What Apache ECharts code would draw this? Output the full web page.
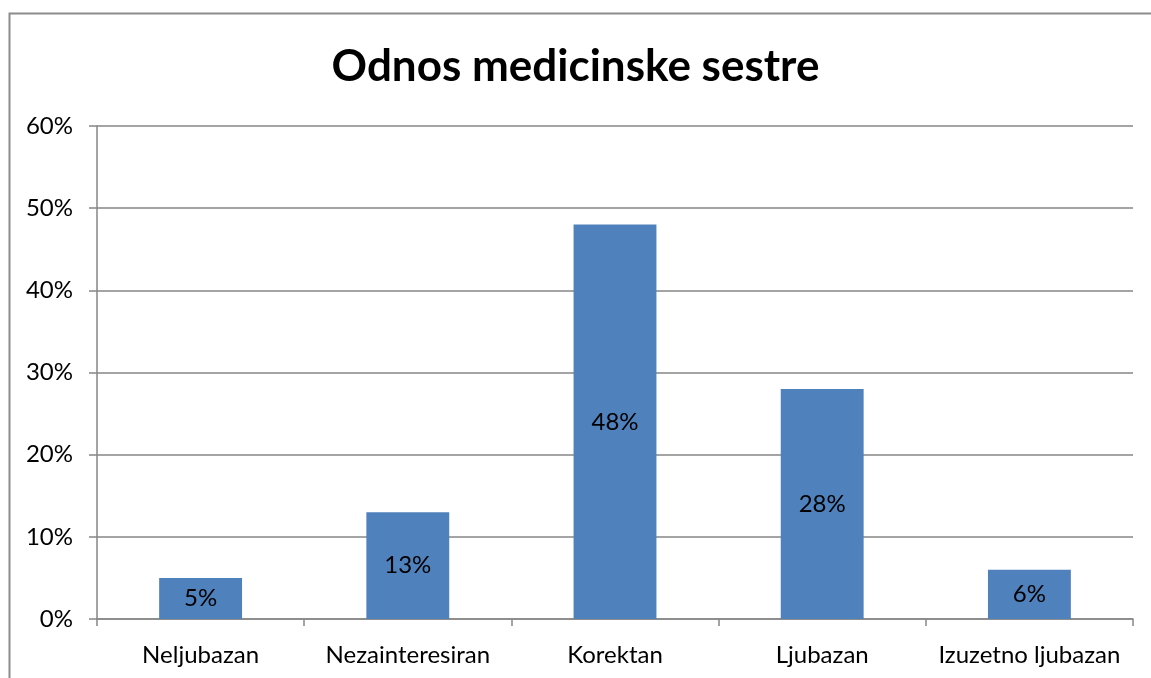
<!DOCTYPE html>
<html><head><meta charset="utf-8">
<script src="https://cdn.jsdelivr.net/npm/echarts@6/dist/echarts.min.js"></script>
<style>html,body{margin:0;padding:0;background:#fff}#c{width:1151px;height:678px}</style>
</head><body><div id="c"></div>
<script>
const categories = ['Neljubazan', 'Nezainteresiran', 'Korektan', 'Ljubazan', 'Izuzetno ljubazan'];
const values = [5, 13, 48, 28, 6];
const yTicks = [0, 10, 20, 30, 40, 50, 60];
const titleText = 'Odnos medicinske sestre';

const chart = echarts.init(document.getElementById('c'));
const font = 'Lato, Carlito, "Liberation Sans", sans-serif';
chart.setOption({
  animation: false,
  title: { text: titleText, left: 'center', top: 40, textStyle: { fontFamily: font, fontSize: 44, fontWeight: 'bold', color: '#000' } },
  graphic: [{ type: 'rect', shape: { x: 9.5, y: 13.5, width: 1200, height: 700 }, style: { fill: 'none', stroke: '#8c8c8c', lineWidth: 2 }, silent: true }],
  grid: { left: 97, right: 18, top: 126, bottom: 59, containLabel: false },
  xAxis: {
    type: 'category', data: categories,
    axisLine: { lineStyle: { color: '#868686', width: 1.5 } },
    axisTick: { show: true, alignWithLabel: false, length: 7, lineStyle: { color: '#868686', width: 1.5 } },
    axisLabel: { interval: 0, hideOverlap: false, fontFamily: font, fontSize: 24, color: '#000', margin: 24 }
  },
  yAxis: {
    type: 'value', min: 0, max: 60, interval: 10,
    axisLine: { show: true, lineStyle: { color: '#868686', width: 1.5 } },
    axisTick: { show: true, length: 8, lineStyle: { color: '#868686', width: 1.5 } },
    splitLine: { lineStyle: { color: '#868686', width: 1.5 } },
    axisLabel: { fontFamily: font, fontSize: 24, color: '#000', margin: 24, formatter: v => yTicks.includes(v) ? v + '%' : '' }
  },
  series: [{
    type: 'bar', data: values, barWidth: '40%',
    itemStyle: { color: '#4f81bd' },
    label: { show: true, position: 'inside', formatter: p => p.value + '%', fontFamily: font, fontSize: 24, color: '#000' }
  }]
});
</script></body></html>
